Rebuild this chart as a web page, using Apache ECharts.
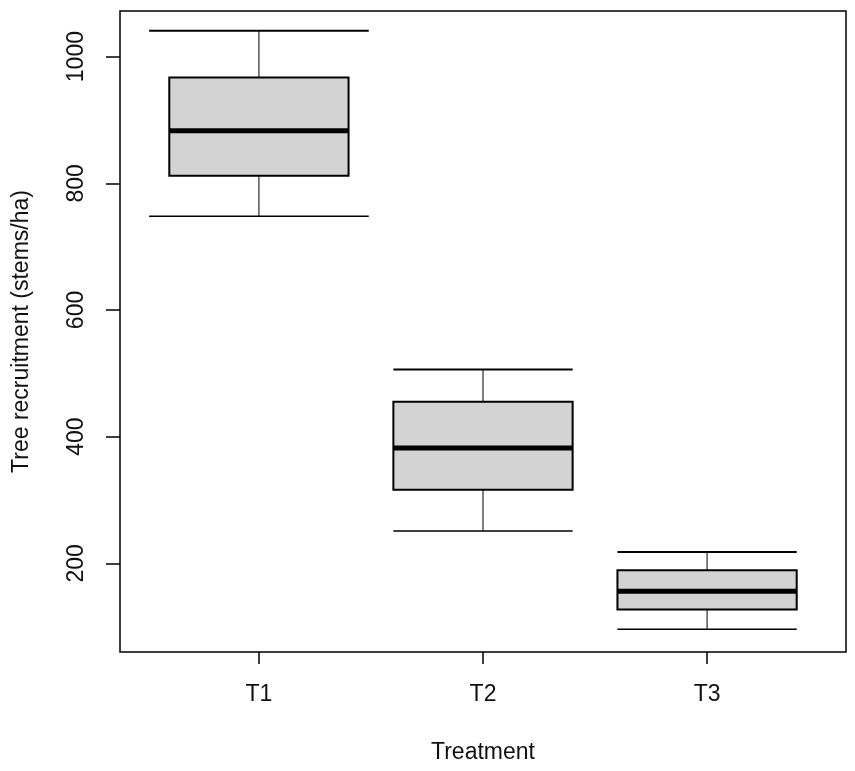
<!DOCTYPE html>
<html>
<head>
<meta charset="utf-8">
<script src="https://cdn.jsdelivr.net/npm/echarts@6/dist/echarts.min.js"></script>
<style>
html,body{margin:0;padding:0;background:#fff;}
#chart{width:855px;height:771px;}
</style>
</head>
<body>
<div id="chart"></div>
<script>
// ---- data ----
const categories = ['T1', 'T2', 'T3'];
const lowerWhisker = [748, 251, 96];
const q1Values = [812, 316, 127];
const medianValues = [883, 382, 156];
const q3Values = [967, 455, 189];
const upperWhisker = [1041, 506, 218];
const yTickValues = [200, 400, 600, 800, 1000];
const xTickValues = [1, 2, 3];

// ---- style settings ----
const boxWidthUnits = 0.8;
const stapleWidthUnits = [0.98, 0.8, 0.8];
const FONT = 'Liberation Sans, Arial, sans-serif';
const FS = 23;

const seriesData = categories.map((c, i) => [i + 1, lowerWhisker[i], q1Values[i], medianValues[i], q3Values[i], upperWhisker[i]]);

const chart = echarts.init(document.getElementById('chart'), null, {renderer: 'canvas'});

function renderBox(params, api) {
  const i = params.dataIndex;
  const x = api.value(0);
  const lw = api.value(1), q1 = api.value(2), med = api.value(3), q3 = api.value(4), uw = api.value(5);
  const bw = api.size([boxWidthUnits, 0])[0];
  const sw = api.size([stapleWidthUnits[i], 0])[0];
  const pLw = api.coord([x, lw]);
  const pQ1 = api.coord([x, q1]);
  const pMed = api.coord([x, med]);
  const pQ3 = api.coord([x, q3]);
  const pUw = api.coord([x, uw]);
  const cx = pMed[0];
  const black = '#000';
  return {
    type: 'group',
    children: [
      {type: 'line', shape: {x1: cx, y1: pUw[1], x2: cx, y2: pQ3[1]}, style: {stroke: black, lineWidth: 1}},
      {type: 'line', shape: {x1: cx, y1: pQ1[1], x2: cx, y2: pLw[1]}, style: {stroke: black, lineWidth: 1}},
      {type: 'line', shape: {x1: cx - sw / 2, y1: pUw[1], x2: cx + sw / 2, y2: pUw[1]}, style: {stroke: black, lineWidth: 2}},
      {type: 'line', shape: {x1: cx - sw / 2, y1: pLw[1], x2: cx + sw / 2, y2: pLw[1]}, style: {stroke: black, lineWidth: 1.5}},
      {type: 'rect', shape: {x: cx - bw / 2, y: pQ3[1], width: bw, height: pQ1[1] - pQ3[1]}, style: {fill: '#d3d3d3', stroke: black, lineWidth: 2}},
      {type: 'line', shape: {x1: cx - bw / 2, y1: pMed[1], x2: cx + bw / 2, y2: pMed[1]}, style: {stroke: black, lineWidth: 5}}
    ]
  };
}

const option = {
  backgroundColor: '#fff',
  animation: false,
  grid: {left: 120, right: 9, top: 11, bottom: 119, show: true, borderColor: '#000', borderWidth: 1.5, backgroundColor: 'transparent'},
  xAxis: {
    type: 'value', min: 0.38, max: 3.62,
    name: 'Treatment', nameLocation: 'middle', nameGap: 89,
    nameTextStyle: {fontFamily: FONT, fontSize: FS, color: '#111'},
    axisLine: {show: false},
    splitLine: {show: false},
    axisTick: {show: true, customValues: xTickValues, length: 12, lineStyle: {color: '#000', width: 1.5}},
    axisLabel: {customValues: xTickValues, formatter: v => categories[Math.round(v) - 1], fontFamily: FONT, fontSize: FS, color: '#111', margin: 31}
  },
  yAxis: {
    type: 'value', min: 60, max: 1072,
    name: 'Tree recruitment (stems/ha)', nameLocation: 'middle', nameGap: 87, nameRotate: 90,
    nameTextStyle: {fontFamily: FONT, fontSize: FS, color: '#111'},
    axisLine: {show: false},
    splitLine: {show: false},
    axisTick: {show: true, customValues: yTickValues, length: 14, lineStyle: {color: '#000', width: 1.5}},
    axisLabel: {customValues: yTickValues, rotate: 90, formatter: v => String(v), fontFamily: FONT, fontSize: FS, color: '#111', margin: 32}
  },
  series: [{
    type: 'custom',
    renderItem: renderBox,
    data: seriesData,
    encode: {x: 0, y: [1, 2, 3, 4, 5]},
    clip: false
  }]
};
chart.setOption(option);
</script>
</body>
</html>
